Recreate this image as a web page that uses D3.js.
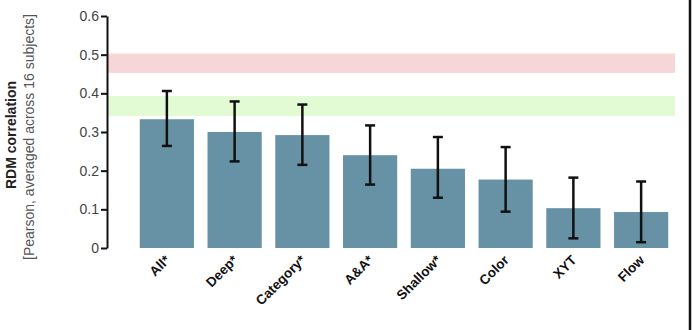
<!DOCTYPE html>
<html>
<head>
<meta charset="utf-8">
<script src="https://cdn.jsdelivr.net/npm/d3@7"></script>
<style>
  body { margin: 0; background: #fff; }
  svg { display: block; font-family: "Liberation Sans", Arial, sans-serif; }
  .axis path, .axis line { stroke: #111; stroke-width: 2; }
  .axis text { fill: #444; font-size: 14px; }
</style>
</head>
<body>
<div id="chart"></div>
<script>
const categories = ["All*", "Deep*", "Category*", "A&A*", "Shallow*", "Color", "XYT", "Flow"];
const values = [0.333, 0.300, 0.292, 0.240, 0.205, 0.177, 0.103, 0.093];
const errLow = [0.264, 0.224, 0.215, 0.164, 0.130, 0.094, 0.025, 0.015];
const errHigh = [0.406, 0.379, 0.371, 0.317, 0.287, 0.261, 0.182, 0.172];
const yTicks = [0, 0.1, 0.2, 0.3, 0.4, 0.5, 0.6];
// noise ceiling bands [low, high]
const upperBand = [0.453, 0.503];
const lowerBand = [0.341, 0.393];

const W = 692, H = 330;
const margin = { top: 16, right: 17, bottom: 82, left: 107 };

const svg = d3.select("#chart").append("svg")
  .attr("width", W)
  .attr("height", H);

const y = d3.scaleLinear()
  .domain([0, 0.6])
  .range([H - margin.bottom, margin.top]);

const x = d3.scaleBand()
  .domain(categories)
  .range([133, 675])
  .paddingInner(0.2)
  .paddingOuter(0.1);

// bands
const bands = [
  { r: upperBand, color: "#f6d6d6" },
  { r: lowerBand, color: "#e2fbd5" }
];
svg.selectAll("rect.band")
  .data(bands)
  .enter().append("rect")
  .attr("class", "band")
  .attr("x", margin.left + 1)
  .attr("width", W - margin.right - margin.left - 1)
  .attr("y", d => y(d.r[1]))
  .attr("height", d => y(d.r[0]) - y(d.r[1]))
  .attr("fill", d => d.color);

// bars
svg.selectAll("rect.bar")
  .data(values)
  .enter().append("rect")
  .attr("class", "bar")
  .attr("x", (d, i) => x(categories[i]))
  .attr("width", x.bandwidth())
  .attr("y", d => y(d))
  .attr("height", d => y(0) - y(d))
  .attr("fill", "#6792a6");

// error bars
const eb = svg.append("g")
  .attr("stroke", "#111")
  .attr("stroke-width", 2.5);
categories.forEach((c, i) => {
  const cx = x(c) + x.bandwidth() / 2;
  eb.append("line")
    .attr("x1", cx).attr("x2", cx)
    .attr("y1", y(errLow[i])).attr("y2", y(errHigh[i]));
  [errLow[i], errHigh[i]].forEach(v => {
    eb.append("line")
      .attr("x1", cx - 5).attr("x2", cx + 5)
      .attr("y1", y(v)).attr("y2", y(v));
  });
});

// y axis
svg.append("g")
  .attr("class", "axis")
  .attr("transform", "translate(" + margin.left + ",0)")
  .call(d3.axisLeft(y)
    .tickValues(yTicks)
    .tickSize(6)
    .tickSizeOuter(0)
    .tickPadding(2)
    .tickFormat(d => d === 0 ? "0" : d3.format(".1f")(d)));

// x labels
svg.append("g")
  .selectAll("text")
  .data(categories)
  .enter().append("text")
  .attr("transform", d => "translate(" + (x(d) + x.bandwidth() / 2 + 4) + "," + (H - margin.bottom + 13) + ") rotate(-45)")
  .attr("text-anchor", "end")
  .attr("font-size", 13.5)
  .attr("font-weight", "bold")
  .attr("fill", "#111")
  .text(d => d);

// y title
svg.append("text")
  .attr("transform", "translate(16,135) rotate(-90)")
  .attr("text-anchor", "middle")
  .attr("font-size", 14)
  .attr("font-weight", "bold")
  .attr("fill", "#222")
  .text("RDM correlation");
svg.append("text")
  .attr("transform", "translate(34,137) rotate(-90)")
  .attr("text-anchor", "middle")
  .attr("font-size", 14)
  .attr("fill", "#555")
  .text("[Pearson, averaged across 16 subjects]");

// right frame edge
svg.append("line")
  .attr("x1", 690).attr("x2", 690)
  .attr("y1", 0).attr("y2", H)
  .attr("stroke", "#111")
  .attr("stroke-width", 2.5);
</script>
</body>
</html>
